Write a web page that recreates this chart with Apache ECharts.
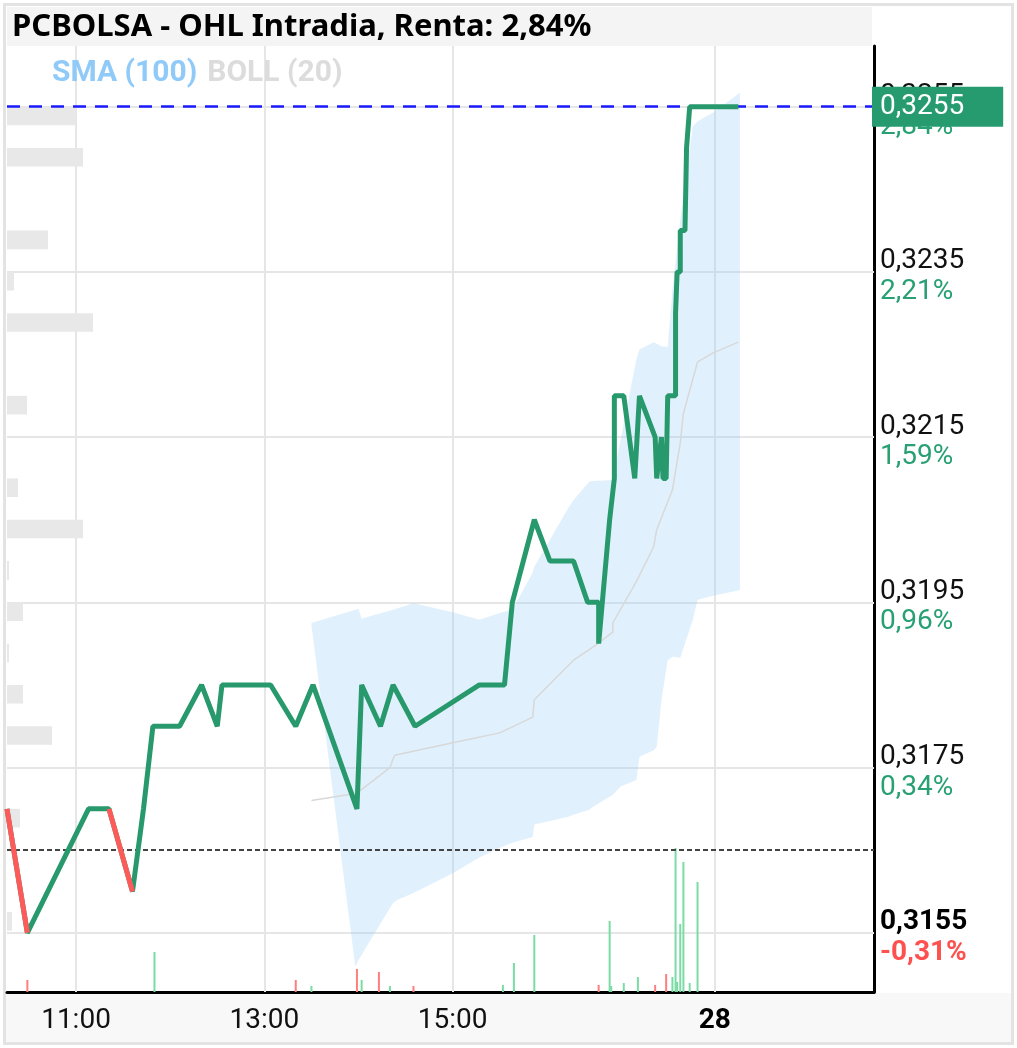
<!DOCTYPE html>
<html><head><meta charset="utf-8">
<script src="https://cdn.jsdelivr.net/npm/echarts@6/dist/echarts.min.js"></script>
<style>html,body{margin:0;padding:0;background:#fff;}#c{width:1017px;height:1048px;}</style>
</head><body><div id="c"></div>
<script>
const titleText = 'PCBOLSA - OHL Intradia, Renta: 2,84%';
const legendSma = 'SMA (100)';
const legendBoll = 'BOLL (20)';
const prevClose = 0.3165;
const lastPrice = 0.3255;

const priceTimes = ['10:16','10:29','11:08','11:21','11:36','11:43','11:49','12:06','12:20','12:30','12:33','13:04','13:20','13:31','13:59','14:02','14:14','14:22','14:36','15:17','15:33','15:38','15:52','16:02','16:17','16:26','16:33','16:33','16:40','16:43','16:43','16:49','16:56','16:59','17:09','17:10','17:13','17:14','17:16','17:17','17:22','17:22','17:23','17:25','17:25','17:28','17:29','17:31','18:02'];
const priceValues = [0.3170,0.3155,0.3170,0.3170,0.3160,0.3170,0.3180,0.3180,0.3185,0.3180,0.3185,0.3185,0.3180,0.3185,0.3170,0.3185,0.3180,0.3185,0.3180,0.3185,0.3185,0.3195,0.3205,0.3200,0.3200,0.3195,0.3195,0.3190,0.3205,0.3210,0.3220,0.3220,0.3210,0.3220,0.3215,0.3210,0.3215,0.3210,0.3210,0.3220,0.3220,0.3230,0.3235,0.3235,0.3240,0.3240,0.3250,0.3255,0.3255];

const bandTimes = ['13:30','13:58','14:00','14:02','14:05','14:22','14:25','14:35','15:00','15:17','15:30','15:38','15:51','15:52','16:13','16:17','16:27','16:29','16:42','16:47','16:57','16:59','17:08','17:10','17:13','17:17','17:20','17:25','17:33','17:36','17:46','18:03'];
const bandUpper = [0.31925,0.31941,0.31942,0.31930,0.31932,0.31941,0.31943,0.31949,0.31938,0.31929,0.31937,0.31941,0.31986,0.31993,0.32062,0.32074,0.32096,0.32097,0.32098,0.32147,0.32244,0.32256,0.32265,0.32263,0.32260,0.32259,0.32328,0.32413,0.32526,0.32532,0.32543,0.32567];
const bandLower = [0.31923,0.31509,0.31517,0.31523,0.31533,0.31586,0.31590,0.31598,0.31622,0.31641,0.31653,0.31659,0.31666,0.31681,0.31690,0.31693,0.31699,0.31702,0.31717,0.31727,0.31735,0.31763,0.31771,0.31775,0.31832,0.31880,0.31884,0.31883,0.31929,0.31953,0.31958,0.31965];

const smaTimes = ['13:30','13:59','14:20','14:23','15:00','15:30','15:51','15:52','16:17','16:31','16:42','16:42','16:57','17:08','17:10','17:20','17:25','17:27','17:36','17:46','18:02'];
const smaValues = [0.31710,0.31719,0.31750,0.31765,0.31780,0.31792,0.31811,0.31832,0.31880,0.31898,0.31914,0.31925,0.31975,0.32017,0.32038,0.32086,0.32143,0.32179,0.32241,0.32252,0.32265];

const volTimes = ['10:29','11:50','13:20','13:30','13:59','14:02','14:13','14:20','14:35','15:32','15:39','15:52','16:33','16:40','16:41','16:49','16:58','17:09','17:16','17:20','17:22','17:23','17:25','17:27','17:31','17:36'];
const volValues = [12,40,12,6,23,12,20,6,6,7,29,57,7,71,6,9,15,7,18,15,144,10,68,130,9,110];
const volDirection = [-1,1,-1,1,-1,1,-1,1,-1,1,1,1,-1,1,1,1,1,-1,-1,1,1,1,1,1,1,1];

const profilePrices = [0.3255,0.3250,0.3240,0.3235,0.3230,0.3220,0.3210,0.3205,0.3200,0.3195,0.3190,0.3185,0.3180,0.3170,0.31575];
const profileVolumes = [69,76,41,7,86,20,11,76,2,16,2,16,45,13,5];

const yTickValues = [0.3155,0.3175,0.3195,0.3215,0.3235,0.3255];
const yTickPercents = ['-0,31%','0,34%','0,96%','1,59%','2,21%','2,84%'];
const xTickTimes = ['11:00','13:00','15:00','17:47'];
const xTickLabels = ['11:00','13:00','15:00','28'];

const xRange = ['10:16:02','19:28:26'];
const yRange = [0.314783, 0.326235];

function toHours(t){const p=t.split(':').map(Number);return p[0]+(p[1]||0)/60+(p[2]||0)/3600;}
function fmt(v){return v.toFixed(4).replace('.',',');}

const GREEN='#27996c', RED='#ff5a5a';
const priceData = priceTimes.map((t,i)=>[toHours(t),priceValues[i]]);
const redData = [];
for(let i=1;i<priceValues.length;i++){
  if(priceValues[i]<prevClose){
    redData.push(priceData[i-1], priceData[i], [priceData[i][0],'-']);
  }
}
const FONT='Roboto';
const rich = {
  p:{fontSize:28,color:'#111',fontFamily:FONT,lineHeight:40},
  pb:{fontSize:28,color:'#000',fontFamily:FONT,fontWeight:'bold',lineHeight:40},
  g:{fontSize:28,color:'#27a073',fontFamily:FONT,lineHeight:21},
  r:{fontSize:28,color:'#ff5050',fontFamily:FONT,fontWeight:'bold',lineHeight:21},
  x:{fontSize:28,color:'#111',fontFamily:FONT},
  xb:{fontSize:28,color:'#000',fontFamily:FONT,fontWeight:'bold'}
};
const gridLineData = yTickValues.map((v,i)=>{
  const neg = yTickPercents[i].startsWith('-');
  return {yAxis:v,label:{show:true,position:'end',distance:6,rich:rich,
    formatter:'{'+(neg?'pb':'p')+'|'+fmt(v)+'}\n{'+(neg?'r':'g')+'|'+yTickPercents[i]+'}'}};
}).concat(xTickTimes.map((t,i)=>({xAxis:toHours(t),label:{show:true,position:'start',distance:15,rich:rich,
  formatter:'{'+(/:/.test(xTickLabels[i])?'x':'xb')+'|'+xTickLabels[i]+'}'}})));

const bandData = bandTimes.map((t,i)=>[toHours(t),bandLower[i],bandUpper[i]]);

const chart = echarts.init(document.getElementById('c'));
chart.setOption({
  animation:false,
  backgroundColor:'#fff',
  graphic:[
    {type:'rect',z:-1,shape:{x:6,y:993,width:1005,height:49},style:{fill:'#f8f8f8'}},
    {type:'rect',z:-1,shape:{x:7,y:7,width:865,height:39},style:{fill:'#f4f4f4'}},
    {type:'rect',z:-1,shape:{x:4.5,y:4.5,width:1008,height:1039},style:{fill:'none',stroke:'#e3e3e3',lineWidth:3}}
  ],
  title:[
    {text:titleText,left:7,top:7,textStyle:{fontFamily:'Noto Sans',fontWeight:'bold',fontSize:31,color:'#000'}},
    {text:'{a|'+legendSma+'}{b|'+legendBoll+'}',left:47,top:53,textStyle:{rich:{
      a:{color:'#90caf9',fontSize:30,fontWeight:'bold',fontFamily:FONT},
      b:{color:'#dcdcdc',fontSize:30,fontWeight:'bold',fontFamily:FONT,padding:[0,0,0,10]}}}}
  ],
  grid:{left:7,right:143,top:46,bottom:56},
  xAxis:[
    {type:'value',min:toHours(xRange[0]),max:toHours(xRange[1]),axisLine:{show:true,onZero:false,lineStyle:{color:'#000',width:3}},axisTick:{show:false},axisLabel:{show:false},splitLine:{show:false}},
    {type:'value',min:0,max:867,show:false}
  ],
  yAxis:[
    {type:'value',position:'right',min:yRange[0],max:yRange[1],axisLine:{show:true,onZero:false,lineStyle:{color:'#000',width:3}},axisTick:{show:false},axisLabel:{show:false},splitLine:{show:false}},
    {type:'value',min:0,max:946,show:false}
  ],
  series:[
    {type:'line',name:'grid',data:priceData,z:1,silent:true,symbol:'none',lineStyle:{opacity:0},
      markLine:{silent:true,z:1,precision:8,symbol:['none','none'],animation:false,lineStyle:{color:'#e6e6e6',width:2,type:'solid'},data:gridLineData}},
    {type:'custom',name:'profile',xAxisIndex:1,yAxisIndex:0,z:2,silent:true,
      data:profilePrices.map((p,i)=>[profileVolumes[i],p]),
      renderItem:function(params,api){
        const a=api.coord([0,api.value(1)]);
        const b=api.coord([api.value(0),api.value(1)]);
        const h=api.size([0,0.0005])[1]*0.45;
        return {type:'rect',shape:{x:a[0],y:a[1],width:b[0]-a[0],height:h},style:{fill:'#e8e8e8'}};
      }},
    {type:'custom',name:'boll',z:2,silent:true,data:bandData,encode:{x:0,y:[1,2]},
      renderItem:function(params,api){
        if(params.dataIndex!==0) return null;
        const n=params.dataInsideLength, up=[], low=[];
        for(let j=0;j<n;j++){
          up.push(api.coord([api.value(0,j),api.value(2,j)]));
          low.unshift(api.coord([api.value(0,j),api.value(1,j)]));
        }
        return {type:'polygon',shape:{points:up.concat(low)},style:{fill:'rgba(140,200,245,0.27)'}};
      }},
    {type:'line',name:'sma',z:3,symbol:'none',silent:true,
      data:smaTimes.map((t,i)=>[toHours(t),smaValues[i]]),lineStyle:{color:'#d8d8d8',width:1.5}},
    {type:'bar',name:'volume',xAxisIndex:0,yAxisIndex:1,z:3,barWidth:2,silent:true,
      data:volTimes.map((t,i)=>({value:[toHours(t),volValues[i]],itemStyle:{color:volDirection[i]>0?'#7adca4':'#ff7e7e'}}))},
    {type:'line',name:'refs',data:priceData,z:4,silent:true,symbol:'none',lineStyle:{opacity:0},
      markLine:{silent:true,z:4,precision:8,symbol:['none','none'],animation:false,data:[
        {yAxis:prevClose,lineStyle:{color:'#444',width:2,type:[5,3]},label:{show:false}},
        {yAxis:lastPrice,lineStyle:{color:'#1a1aff',width:2.5,type:[13,9]},
          label:{show:true,position:'end',distance:-2,formatter:fmt(lastPrice),color:'#fff',fontSize:28,fontFamily:FONT,
            backgroundColor:'#259b6f',padding:[7,39,5,8],lineHeight:28}}
      ]}},
    {type:'line',name:'price',z:6,symbol:'none',silent:true,data:priceData,lineStyle:{color:GREEN,width:5}},
    {type:'line',name:'priceDown',z:7,symbol:'none',silent:true,data:redData,connectNulls:false,lineStyle:{color:RED,width:5}}
  ]
});
</script></body></html>
